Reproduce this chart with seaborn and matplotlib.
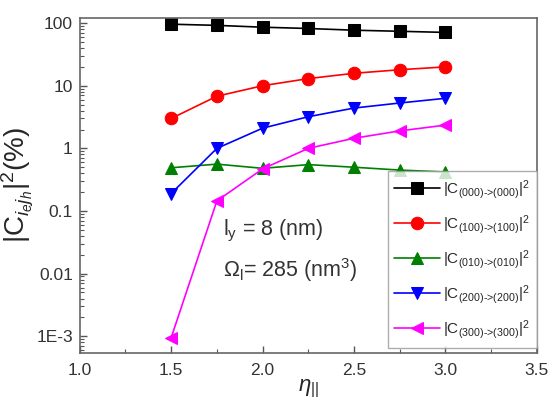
import numpy as np
import pandas as pd
import seaborn as sns
import matplotlib
matplotlib.use('Agg')
import matplotlib.pyplot as plt
from matplotlib.ticker import (FixedLocator, FixedFormatter, LogLocator,
                               MultipleLocator, FormatStrFormatter)

# dados
eta = [1.5, 1.75, 2.0, 2.25, 2.5, 2.75, 3.0]
c000 = [96, 92, 86, 82, 77, 74, 71]
c100 = [3.0, 6.8, 10, 13, 15.8, 18, 20]
c010 = [0.49, 0.56, 0.48, 0.55, 0.5, 0.45, 0.42]
c200 = [0.19, 1.0, 2.1, 3.2, 4.4, 5.3, 6.3]
c300 = [0.00095, 0.145, 0.47, 1.0, 1.45, 1.9, 2.35]

labels = [r'$\mathregular{|C_{\text{(000)->(000)}}|^2}$',
          r'$\mathregular{|C_{\text{(100)->(100)}}|^2}$',
          r'$\mathregular{|C_{\text{(010)->(010)}}|^2}$',
          r'$\mathregular{|C_{\text{(200)->(200)}}|^2}$',
          r'$\mathregular{|C_{\text{(300)->(300)}}|^2}$']
cores = ['black', 'red', 'green', 'blue', 'magenta']
marcadores = ['s', 'o', '^', 'v', '<']
series = [c000, c100, c010, c200, c300]

sns.set_style('ticks')
plt.rcParams['font.family'] = ['Liberation Sans', 'DejaVu Sans']
plt.rcParams['mathtext.fontset'] = 'custom'
plt.rcParams['mathtext.rm'] = 'Liberation Sans'
plt.rcParams['mathtext.it'] = 'Liberation Sans:italic'

fig = plt.figure(figsize=(5.54, 4.03), dpi=100)
ax = fig.add_axes([0.144, 0.124, 0.825, 0.831])

for y, lab, cor, mk in zip(series, labels, cores, marcadores):
    sns.lineplot(x=eta, y=y, ax=ax, color=cor, marker=mk, markersize=9,
                 markeredgecolor=cor, linewidth=1.2, label=lab)

ax.set_yscale('log')
ax.set_xlim(1.0, 3.5)
ax.set_ylim(5.4e-4, 120)
ax.yaxis.set_major_locator(FixedLocator([1e-3, 1e-2, 1e-1, 1, 10, 100]))
ax.yaxis.set_major_formatter(FixedFormatter(['1E-3', '0.01', '0.1', '1', '10', '100']))
ax.yaxis.set_minor_locator(LogLocator(base=10, subs=np.arange(2, 10)))
ax.xaxis.set_major_locator(MultipleLocator(0.5))
ax.xaxis.set_minor_locator(MultipleLocator(0.25))
ax.xaxis.set_major_formatter(FormatStrFormatter('%.1f'))

ax.tick_params(which='both', direction='in', color='#555555', labelsize=12.5,
               labelcolor='#333333', top=False, right=False)
ax.tick_params(which='major', length=5, width=1, pad=5)
ax.tick_params(axis='x', which='major', pad=7)
ax.tick_params(which='minor', length=3, width=0.8)
for s in ax.spines.values():
    s.set_visible(True)
    s.set_color('#666666')
    s.set_linewidth(1.2)

ax.set_xlabel(r'$\eta_{||}$', fontsize=16, labelpad=0)
ax.set_ylabel(r'$\mathregular{|C_{\mathit{i_e j_h}}|^2 (\%)}$', fontsize=20, labelpad=0)

ax.text(0.313, 0.35, r'$\mathregular{l_y}$ = 8 (nm)', transform=ax.transAxes,
        fontsize=15.5, color='#333333')
ax.text(0.313, 0.228, r'$\mathregular{\Omega_l}$= 285 (nm$^3$)', transform=ax.transAxes,
        fontsize=15.5, color='#333333')

leg = ax.legend(loc='lower right', bbox_to_anchor=(1.0, 0.015), fontsize=11,
                handlelength=3, frameon=True, fancybox=False, borderaxespad=0,
                labelspacing=0.8, handletextpad=0.2, borderpad=0.45)
leg.get_frame().set_edgecolor('#999999')

fig.savefig('out.png', dpi=100)
